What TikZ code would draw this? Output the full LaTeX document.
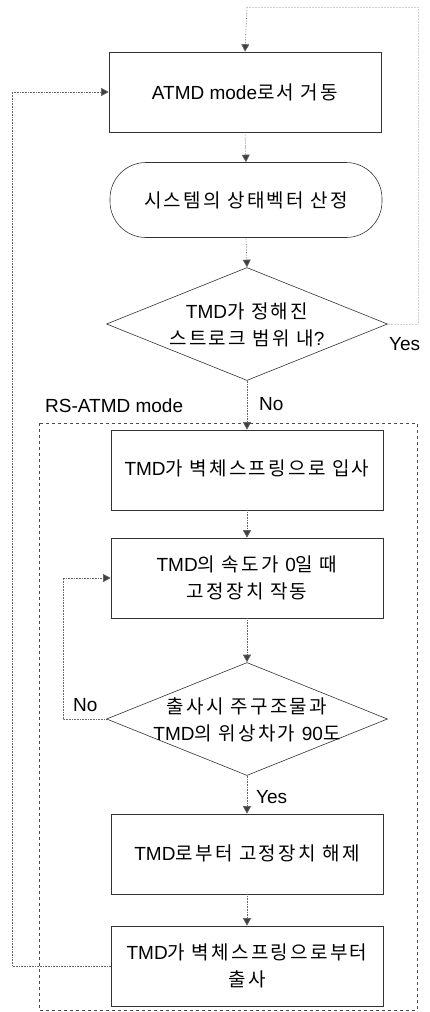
\documentclass[tikz,border=0pt]{standalone}
\usepackage{fontspec}
\setmainfont{Liberation Sans}
\newfontfamily\kr[LetterSpace=12]{Noto Sans CJK KR}
\usetikzlibrary{shapes.geometric,arrows.meta,positioning}
\tikzset{
  box/.style={draw=black!80, line width=0.6pt, minimum width=272pt, minimum height=80pt, inner sep=0pt, align=center, font=\fontsize{19}{27}\selectfont},
  stadium/.style={draw=black!80, line width=0.6pt, rounded corners=36pt, minimum width=272pt, minimum height=75pt, inner sep=0pt, align=center, font=\fontsize{19}{27}\selectfont},
  dia/.style={draw=black!80, line width=0.6pt, shape=diamond, minimum width=281pt, minimum height=113pt, inner sep=0pt},
  txt/.style={align=center, font=\fontsize{19}{27}\selectfont, inner sep=0pt},
  lbl/.style={font=\fontsize{19}{22}\selectfont, inner sep=0pt},
  conn/.style={draw=black!60, line width=0.6pt, densely dotted},
  arr/.style={conn, -{Triangle[length=7.5pt,width=8pt,fill=black!75]}},
  faint/.style={draw=black!18, line width=0.5pt, densely dotted},
  region/.style={draw=black!70, line width=0.6pt, dashed}
}
\begin{document}
\begin{tikzpicture}[x=1pt,y=-1pt]
\useasboundingbox (0,0) rectangle (429,1012);
% region
\draw[region] (39,423) rectangle (417,1010);
\node[lbl, anchor=west] (rslbl) at (45,406) {RS-ATMD mode};
% nodes
\node[box] (b1) at (245,92) {ATMD mode{\kr 로서 거동}};
\node[stadium] (s1) at (246,200) {\kr 시스템의 상태벡터 산정};
\node[dia] (d1) at (247,324) {};
\node[txt] (d1t) at (247,325) {TMD{\kr 가 정해진}\\{\kr 스트로크 범위 내}?};
\node[box] (b3) at (247,470) {\raisebox{5pt}{TMD{\kr 가 벽체스프링으로 입사}}};
\node[box] (b4) at (247,578) {TMD{\kr 의 속도가 }0{\kr 일 때}\\{\kr 고정장치 작동}};
\node[dia] (d2) at (247,719) {};
\node[txt] (d2t) at (247,720) {{\kr 출사시 주구조물과}\\TMD{\kr 의 위상차가 }90{\kr 도}};
\node[box] (b5) at (247,854) {\raisebox{2pt}{TMD{\kr 로부터 고정장치 해제}}};
\node[box] (b6) at (247,966) {TMD{\kr 가 벽체스프링으로부터}\\{\kr 출사}};
% coordinates
\coordinate (y1) at (418,324);
\coordinate (y2) at (418,7);
\coordinate (top) at (247,7);
\coordinate (l1) at (12,966);
\coordinate (l2) at (12,92);
\coordinate (n1) at (63,719);
\coordinate (n2) at (63,578);
% connectors
\draw[faint] (d1.east) -- (y1) -- (y2) -- (top);
\draw[arr] (top) -- (b1.north);
\draw[arr] (b1.south) -- (s1.north);
\draw[arr] (s1.south) -- (d1.north);
\draw[arr] (d1.south) -- (b3.north);
\draw[arr] (b3.south) -- (b4.north);
\draw[arr] (b4.south) -- (d2.north);
\draw[arr] (d2.south) -- (b5.north);
\draw[arr] (b5.south) -- (b6.north);
\draw[arr] (b6.west) -- (l1) -- (l2) -- (b1.west);
\draw[arr] (d2.west) -- (n1) -- (n2) -- (b4.west);
% labels
\node[lbl, anchor=west] (yes1) at (389,344) {Yes};
\node[lbl, anchor=west] (no1) at (259,404) {No};
\node[lbl, anchor=west] (no2) at (73,705) {No};
\node[lbl, anchor=west] (yes2) at (256,797) {Yes};
\end{tikzpicture}
\end{document}
